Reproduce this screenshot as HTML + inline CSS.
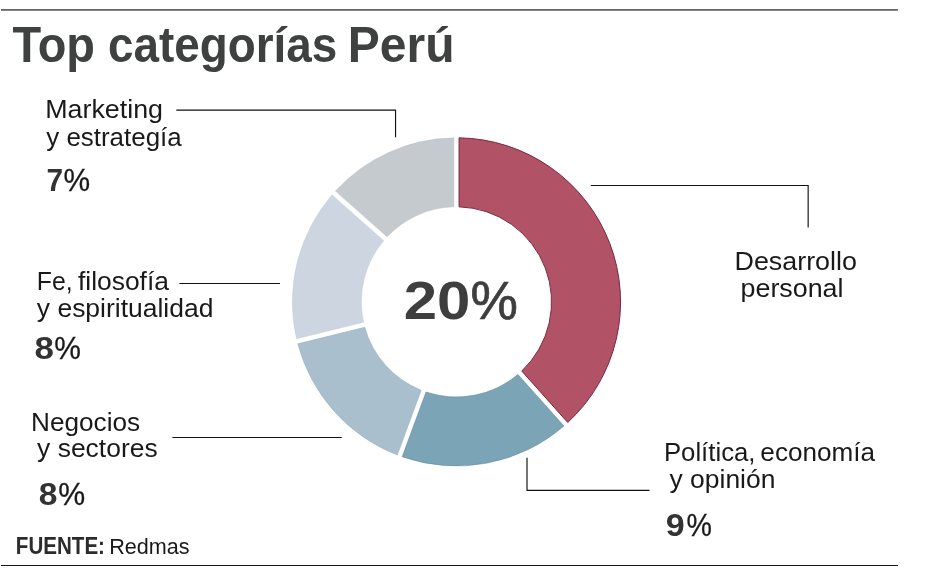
<!DOCTYPE html>
<html lang="es"><head><meta charset="utf-8"><title>Top categorías Perú</title>
<style>
html,body{margin:0;padding:0;background:#fff;}
body{width:930px;height:577px;overflow:hidden;font-family:"Liberation Sans",sans-serif;}
svg{display:block;}
text{font-family:"Liberation Sans",sans-serif;}
</style></head><body>
<svg xmlns="http://www.w3.org/2000/svg" width="930" height="577" viewBox="0 0 930 577">
<rect width="930" height="577" fill="#fff"/>

<path d="M1,9.85 H897.9" stroke="#626262" stroke-width="1.9" fill="none"/>
<path d="M1,565.5 H897.9" stroke="#141414" stroke-width="1.2" fill="none"/>
<g stroke="#111" stroke-width="1.15" fill="none" stroke-linecap="butt">
<path d="M176.3,110.1 H395.55 V137.2"/>
<path d="M179.4,283.5 H280"/>
<path d="M172.4,437.45 H341.7"/>
<path d="M590.8,185.5 H808.15 V227.5"/>
<path d="M527,457.7 V490.4 H649.5"/>
</g>

<g>
<path d="M459.05,137.82 A164.1,164.1 0 0 1 567.75,422.48 L521.75,371.04 A95.1,95.1 0 0 0 459.05,206.84 Z" fill="#b25266" stroke="#76293f" stroke-width="1.0" stroke-linejoin="miter"/>
<path d="M563.88,425.95 A164.1,164.1 0 0 1 402.23,456.79 L426.06,392.02 A95.1,95.1 0 0 0 517.88,374.50 Z" fill="#7ba4b6" stroke="#5f8a9d" stroke-width="0.6" stroke-linejoin="miter"/>
<path d="M397.35,454.99 A164.1,164.1 0 0 1 297.80,343.84 L364.79,327.26 A95.1,95.1 0 0 0 421.18,390.22 Z" fill="#a9bfcd" stroke="#93acbc" stroke-width="0.5" stroke-linejoin="miter"/>
<path d="M296.55,338.79 A164.1,164.1 0 0 1 332.03,194.91 L383.63,240.73 A95.1,95.1 0 0 0 363.54,322.21 Z" fill="#ccd5e0" stroke="#bcc6d3" stroke-width="0.4" stroke-linejoin="miter"/>
<path d="M335.48,191.02 A164.1,164.1 0 0 1 453.85,137.82 L453.85,206.84 A95.1,95.1 0 0 0 387.09,236.84 Z" fill="#c4cacd" stroke="#b3babe" stroke-width="0.4" stroke-linejoin="miter"/>
</g>
<g>
<text><tspan x="12.47" y="61.6" font-size="50.2" font-weight="700" fill="#3f4040" textLength="82.45" lengthAdjust="spacingAndGlyphs">Top</tspan> <tspan x="107.91" y="61.6" font-size="50.2" font-weight="700" fill="#3f4040" textLength="229.27" lengthAdjust="spacingAndGlyphs">categorías</tspan> <tspan x="347.79" y="61.6" font-size="50.2" font-weight="700" fill="#3f4040" textLength="106.78" lengthAdjust="spacingAndGlyphs">Perú</tspan></text>
<text><tspan x="45.20" y="117.8" font-size="26.0" font-weight="400" fill="#191919" textLength="117.83" lengthAdjust="spacingAndGlyphs">Marketing</tspan> <tspan x="46.24" y="145.6" font-size="26.0" font-weight="400" fill="#191919" textLength="135.46" lengthAdjust="spacingAndGlyphs">y estrategía</tspan></text>
<text><tspan x="46.62" y="191.0" font-size="31" font-weight="700" fill="#333" textLength="16.59" lengthAdjust="spacingAndGlyphs">7</tspan><tspan x="63.43" y="191.0" font-size="31" font-weight="400" fill="#1a1a1a" textLength="26.64" lengthAdjust="spacingAndGlyphs" stroke="#1a1a1a" stroke-width="0.3">%</tspan></text>
<text><tspan x="36.87" y="289.5" font-size="26.0" font-weight="400" fill="#191919" textLength="35.75" lengthAdjust="spacingAndGlyphs">Fe,</tspan> <tspan x="77.93" y="289.5" font-size="26.0" font-weight="400" fill="#191919" textLength="91.07" lengthAdjust="spacingAndGlyphs">filosofía</tspan> <tspan x="36.84" y="316.8" font-size="26.0" font-weight="400" fill="#191919" textLength="176.57" lengthAdjust="spacingAndGlyphs">y espiritualidad</tspan></text>
<text><tspan x="34.64" y="359.0" font-size="31" font-weight="700" fill="#333" textLength="19.43" lengthAdjust="spacingAndGlyphs">8</tspan><tspan x="54.23" y="359.0" font-size="31" font-weight="400" fill="#1a1a1a" textLength="26.69" lengthAdjust="spacingAndGlyphs" stroke="#1a1a1a" stroke-width="0.3">%</tspan></text>
<text><tspan x="31.05" y="431.2" font-size="26.0" font-weight="400" fill="#191919" textLength="109.09" lengthAdjust="spacingAndGlyphs">Negocios</tspan> <tspan x="37.14" y="457.4" font-size="26.0" font-weight="400" fill="#191919" textLength="120.52" lengthAdjust="spacingAndGlyphs">y sectores</tspan></text>
<text><tspan x="38.73" y="505.0" font-size="31" font-weight="700" fill="#333" textLength="18.70" lengthAdjust="spacingAndGlyphs">8</tspan><tspan x="58.27" y="505.0" font-size="31" font-weight="400" fill="#1a1a1a" textLength="26.96" lengthAdjust="spacingAndGlyphs" stroke="#1a1a1a" stroke-width="0.3">%</tspan></text>
<text><tspan x="734.50" y="269.5" font-size="26.0" font-weight="400" fill="#191919" textLength="122.43" lengthAdjust="spacingAndGlyphs">Desarrollo</tspan> <tspan x="740.57" y="296.7" font-size="26.0" font-weight="400" fill="#191919" textLength="102.92" lengthAdjust="spacingAndGlyphs">personal</tspan></text>
<text><tspan x="663.89" y="461.1" font-size="26.0" font-weight="400" fill="#191919" textLength="91.63" lengthAdjust="spacingAndGlyphs">Política,</tspan> <tspan x="760.39" y="461.1" font-size="26.0" font-weight="400" fill="#191919" textLength="114.61" lengthAdjust="spacingAndGlyphs">economía</tspan> <tspan x="669.54" y="487.7" font-size="26.0" font-weight="400" fill="#191919" textLength="105.88" lengthAdjust="spacingAndGlyphs">y opinión</tspan></text>
<text><tspan x="665.72" y="535.9" font-size="31" font-weight="700" fill="#333" textLength="18.95" lengthAdjust="spacingAndGlyphs">9</tspan><tspan x="686.48" y="535.9" font-size="31" font-weight="400" fill="#1a1a1a" textLength="25.44" lengthAdjust="spacingAndGlyphs" stroke="#1a1a1a" stroke-width="0.3">%</tspan></text>
<text><tspan x="403.72" y="318.8" font-size="53.5" font-weight="700" fill="#3e3e3e" textLength="66.63" lengthAdjust="spacingAndGlyphs">20</tspan><tspan x="470.50" y="318.8" font-size="53.5" font-weight="400" fill="#3e3e3e" textLength="47.40" lengthAdjust="spacingAndGlyphs" stroke="#3e3e3e" stroke-width="0.7">%</tspan></text>
<text><tspan x="15.82" y="553.6" font-size="23.4" font-weight="700" fill="#2c2c2c" textLength="89.16" lengthAdjust="spacingAndGlyphs">FUENTE:</tspan> <tspan x="109.13" y="553.6" font-size="22.8" font-weight="400" fill="#191919" textLength="80.45" lengthAdjust="spacingAndGlyphs">Redmas</tspan></text>
</g>
</svg>
</body></html>
